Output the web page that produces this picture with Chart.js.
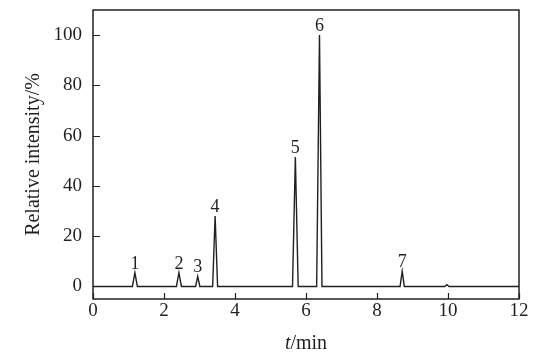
<!DOCTYPE html>
<html>
<head>
<meta charset="utf-8">
<script src="https://cdn.jsdelivr.net/npm/chart.js@4.4.0/dist/chart.umd.min.js"></script>
<style>
  html, body { margin: 0; padding: 0; background: #fff; }
  #wrap { width: 556px; height: 357px; }
</style>
</head>
<body>
<div id="wrap"><canvas id="chart"></canvas></div>
<script>
// chromatogram trace (t in min, relative intensity in %)
const times = [0, 1.11, 1.18, 1.25, 2.35, 2.42, 2.49, 2.89, 2.95, 3.01, 3.37, 3.44, 3.51,
  5.62, 5.70, 5.78, 6.30, 6.38, 6.45, 8.65, 8.71, 8.77, 9.91, 9.97, 10.03, 12];
const intensity = [0, 0, 5.5, 0, 0, 5.5, 0, 0, 4, 0, 0, 28, 0,
  0, 51.5, 0, 0, 100, 0, 0, 6, 0, 0, 0.7, 0, 0];

// numbered peaks
const peakTimes = [1.18, 2.42, 2.95, 3.44, 5.70, 6.38, 8.71];
const peakHeights = [5.5, 5.5, 4, 28, 51.5, 100, 6];
const peakLabels = ['1', '2', '3', '4', '5', '6', '7'];

const xTicks = [0, 2, 4, 6, 8, 10, 12];
const yTicks = [0, 20, 40, 60, 80, 100];

const ink = '#231f20';
const serif = '"Liberation Serif", "Times New Roman", serif';

// frame, inward ticks, peak numbers and axis titles
const decorations = {
  id: 'decorations',
  afterDraw(chart) {
    const { ctx, chartArea: a, scales: { x, y } } = chart;
    ctx.save();
    ctx.strokeStyle = ink;
    ctx.lineWidth = 1.5;
    ctx.strokeRect(a.left, a.top, a.right - a.left, a.bottom - a.top);

    ctx.lineWidth = 1.2;
    ctx.beginPath();
    xTicks.forEach(v => {
      const px = Math.round(x.getPixelForValue(v)) + 0.5;
      ctx.moveTo(px, a.bottom);
      ctx.lineTo(px, a.bottom - 6);
    });
    yTicks.forEach(v => {
      const py = Math.round(y.getPixelForValue(v)) + 0.5;
      ctx.moveTo(a.left, py);
      ctx.lineTo(a.left + 7, py);
    });
    ctx.stroke();

    ctx.fillStyle = ink;
    ctx.font = '18px ' + serif;
    ctx.textAlign = 'center';
    ctx.textBaseline = 'alphabetic';
    peakLabels.forEach((lab, i) => {
      ctx.fillText(lab, x.getPixelForValue(peakTimes[i]), y.getPixelForValue(peakHeights[i]) - 4);
    });

    // x title: italic t + /min
    const cx = (a.left + a.right) / 2, ty = 349;
    ctx.font = 'italic 20px ' + serif;
    const wT = ctx.measureText('t').width;
    ctx.font = '20px ' + serif;
    const wRest = ctx.measureText('/min').width;
    const sx = cx - (wT + wRest) / 2;
    ctx.textAlign = 'left';
    ctx.font = 'italic 20px ' + serif;
    ctx.fillText('t', sx, ty);
    ctx.font = '20px ' + serif;
    ctx.fillText('/min', sx + wT, ty);

    // y title
    ctx.translate(39, (a.top + a.bottom) / 2);
    ctx.rotate(-Math.PI / 2);
    ctx.textAlign = 'center';
    ctx.fillText('Relative intensity/%', 0, 0);
    ctx.restore();
  }
};

new Chart(document.getElementById('chart'), {
  type: 'line',
  data: {
    datasets: [{
      data: times.map((t, i) => ({ x: t, y: intensity[i] })),
      borderColor: ink,
      borderWidth: 1.4,
      pointRadius: 0,
      tension: 0,
      fill: false
    }]
  },
  options: {
    responsive: true,
    maintainAspectRatio: false,
    animation: false,
    devicePixelRatio: 1,
    layout: { padding: { top: 10, right: 37, left: 0, bottom: 0 } },
    plugins: { legend: { display: false }, tooltip: { enabled: false } },
    scales: {
      x: {
        type: 'linear',
        min: 0,
        max: 12,
        afterBuildTicks: s => { s.ticks = xTicks.map(v => ({ value: v })); },
        afterFit: s => { s.height = 58; s.paddingLeft = 0; s.paddingRight = 0; },
        grid: { display: false, drawTicks: false },
        border: { display: false },
        ticks: { autoSkip: false, maxRotation: 0, padding: 1, color: ink, font: { family: serif, size: 19 } }
      },
      y: {
        min: -5,
        max: 110,
        afterBuildTicks: s => { s.ticks = yTicks.map(v => ({ value: v })); },
        afterFit: s => { s.width = 93; s.paddingTop = 0; s.paddingBottom = 0; },
        grid: { display: false, drawTicks: false },
        border: { display: false },
        ticks: { padding: 11, color: ink, font: { family: serif, size: 19 } }
      }
    }
  },
  plugins: [decorations]
});
</script>
</body>
</html>
